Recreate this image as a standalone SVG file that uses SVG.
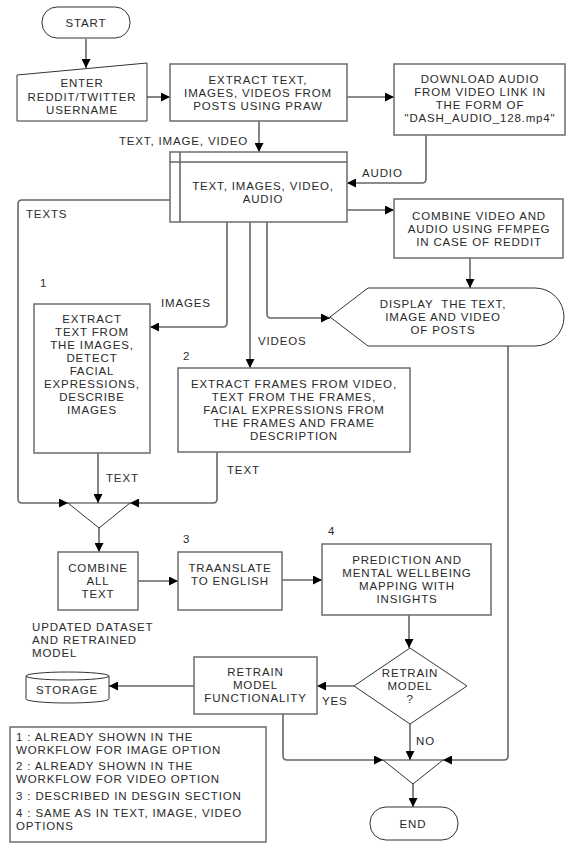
<svg xmlns="http://www.w3.org/2000/svg" width="572" height="866" viewBox="0 0 572 866">
<style>
text{font-family:"Liberation Sans",Arial,sans-serif;font-size:11.5px;letter-spacing:0.85px;fill:#2a2a2a}
.c{text-anchor:middle}
.e{text-anchor:end}
.box{fill:#fff;stroke:#757575;stroke-width:1.6}
.thin{fill:#fff;stroke:#333;stroke-width:1}
.con{fill:none;stroke:#666;stroke-width:1.6}
.arr{marker-end:url(#ah)}
</style>
<defs>
<marker id="ah" viewBox="0 0 10 10" refX="10" refY="5" markerWidth="9" markerHeight="9" markerUnits="userSpaceOnUse" orient="auto">
<path d="M0,0 L10,5 L0,10 z" fill="#000"/>
</marker>
</defs>
<rect width="572" height="866" fill="#fff"/>

<g id="connectors">
<path class="con arr" d="M86,39 V68"/>
<path class="con arr" d="M147,97 H170"/>
<path class="con arr" d="M347,97 H394"/>
<path class="con arr" d="M259,121 V152"/>
<path class="con arr" d="M426,135 V179 Q426,183 422,183 H347"/>
<path class="con arr" d="M170,200 H22 Q18,200 18,204 V499 Q18,503 22,503 H68"/>
<path class="con arr" d="M227,222 V323 Q227,327 223,327 H150"/>
<path class="con arr" d="M250,222 V368"/>
<path class="con arr" d="M267,222 V314 Q267,318 271,318 H330"/>
<path class="con arr" d="M347,210 H394"/>
<path class="con arr" d="M470,258 V288"/>
<path class="con arr" d="M508,346 V756 Q508,760 504,760 H443"/>
<path class="con arr" d="M98,453 V503"/>
<path class="con arr" d="M217,452 V499 Q217,503 213,503 H130"/>
<path class="con arr" d="M99,528 V552"/>
<path class="con arr" d="M138,581 H178"/>
<path class="con arr" d="M282,580 H322"/>
<path class="con arr" d="M409,615 V648"/>
<path class="con arr" d="M354,686 H317"/>
<path class="con arr" d="M194,686 H109"/>
<path class="con arr" d="M283,714 V756 Q283,760 287,760 H383"/>
<path class="con arr" d="M410,724 V760"/>
<path class="con arr" d="M413,784 V807"/>
<text x="248" y="144.5" class="e">TEXT, IMAGE, VIDEO</text>
<text x="362" y="176.5">AUDIO</text>
<text x="26" y="217.5">TEXTS</text>
<text x="161" y="306.5">IMAGES</text>
<text x="258" y="344.5">VIDEOS</text>
<text x="106" y="482">TEXT</text>
<text x="227" y="473.5">TEXT</text>
<text x="322" y="704.5">YES</text>
<text x="416" y="744.5">NO</text>
</g>

<g id="start">
<rect x="42" y="7" width="88" height="31" rx="15" class="thin"/>
<text x="86" y="27" class="c">START</text>
</g>

<g id="enter">
<path d="M17,75 L147,63 V121 H17 Z" class="thin"/>
<text x="82" y="86.5" class="c">ENTER</text>
<text x="82" y="100.5" class="c">REDDIT/TWITTER</text>
<text x="82" y="113.5" class="c">USERNAME</text>
</g>

<g id="extract">
<rect x="170" y="64" width="177" height="57" class="box"/>
<text x="258" y="84" class="c">EXTRACT TEXT,</text>
<text x="258" y="97" class="c">IMAGES, VIDEOS FROM</text>
<text x="258" y="110" class="c">POSTS USING PRAW</text>
</g>

<g id="download">
<rect x="394" y="64" width="171" height="71" class="box"/>
<text x="480" y="83" class="c">DOWNLOAD AUDIO</text>
<text x="480" y="96" class="c">FROM VIDEO LINK IN</text>
<text x="480" y="109" class="c">THE FORM OF</text>
<text x="480" y="122" class="c">"DASH_AUDIO_128.mp4"</text>
</g>

<g id="store">
<rect x="170" y="152" width="177" height="70" class="box"/>
<path d="M180,152 V222 M170,162 H347" class="con"/>
<text x="263" y="190" class="c">TEXT, IMAGES, VIDEO,</text>
<text x="263" y="203" class="c">AUDIO</text>
</g>

<g id="combine-video">
<rect x="394" y="199" width="169" height="59" class="box"/>
<text x="479" y="219.5" class="c">COMBINE VIDEO AND</text>
<text x="479" y="232.5" class="c">AUDIO USING FFMPEG</text>
<text x="479" y="245.5" class="c">IN CASE OF REDDIT</text>
</g>

<g id="display">
<path d="M330,317 L368,288 H535 A29,29 0 0 1 535,346 H368 Z" class="thin"/>
<text x="443" y="307.5" class="c">DISPLAY&#160; THE TEXT,</text>
<text x="443" y="320.5" class="c">IMAGE AND VIDEO</text>
<text x="443" y="333.5" class="c">OF POSTS</text>
</g>

<g id="box1">
<text x="40" y="287">1</text>
<rect x="34" y="304" width="116" height="149" class="box"/>
<text x="92" y="322.5" class="c">EXTRACT</text>
<text x="92" y="335.5" class="c">TEXT FROM</text>
<text x="92" y="348.5" class="c">THE IMAGES,</text>
<text x="92" y="361.5" class="c">DETECT</text>
<text x="92" y="374.5" class="c">FACIAL</text>
<text x="92" y="387.5" class="c">EXPRESSIONS,</text>
<text x="92" y="400.5" class="c">DESCRIBE</text>
<text x="92" y="413.5" class="c">IMAGES</text>
</g>

<g id="box2">
<text x="183" y="359.5">2</text>
<rect x="178" y="368" width="232" height="84" class="box"/>
<text x="294" y="387.5" class="c">EXTRACT FRAMES FROM VIDEO,</text>
<text x="294" y="400.5" class="c">TEXT FROM THE FRAMES,</text>
<text x="294" y="413.5" class="c">FACIAL EXPRESSIONS FROM</text>
<text x="294" y="426.5" class="c">THE FRAMES AND FRAME</text>
<text x="294" y="439.5" class="c">DESCRIPTION</text>
</g>

<g id="merge1">
<path d="M68,503 H130 L99,528 Z" class="thin"/>
</g>

<g id="combine-all">
<rect x="58" y="552" width="80" height="58" class="box"/>
<text x="98" y="571.5" class="c">COMBINE</text>
<text x="98" y="584.5" class="c">ALL</text>
<text x="98" y="597.5" class="c">TEXT</text>
</g>

<g id="translate">
<text x="183" y="542.5">3</text>
<rect x="178" y="552" width="104" height="58" class="box"/>
<text x="230" y="571.5" class="c">TRAANSLATE</text>
<text x="230" y="584.5" class="c">TO ENGLISH</text>
</g>

<g id="prediction">
<text x="328" y="535">4</text>
<rect x="322" y="544" width="169" height="71" class="box"/>
<text x="407" y="564" class="c">PREDICTION AND</text>
<text x="407" y="577" class="c">MENTAL WELLBEING</text>
<text x="407" y="590" class="c">MAPPING WITH</text>
<text x="407" y="603" class="c">INSIGHTS</text>
</g>

<g id="decision">
<path d="M410,648 L467,686 L410,724 L354,686 Z" class="thin"/>
<text x="410" y="676.5" class="c">RETRAIN</text>
<text x="410" y="689.5" class="c">MODEL</text>
<text x="410" y="702.5" class="c">?</text>
</g>

<g id="retrain">
<rect x="194" y="657" width="123" height="57" class="box"/>
<text x="255.5" y="676" class="c">RETRAIN</text>
<text x="255.5" y="689" class="c">MODEL</text>
<text x="255.5" y="702" class="c">FUNCTIONALITY</text>
</g>

<g id="updated-label">
<text x="32" y="630.5">UPDATED DATASET</text>
<text x="32" y="643.5">AND RETRAINED</text>
<text x="32" y="656.5">MODEL</text>
</g>

<g id="storage">
<path d="M26,676 A41.5,4 0 0 1 109,676 V699 A41.5,4 0 0 1 26,699 Z" class="thin"/>
<path d="M26,676 A41.5,4 0 0 0 109,676" fill="none" stroke="#333" stroke-width="1"/>
<text x="67" y="693.5" class="c">STORAGE</text>
</g>

<g id="merge2">
<path d="M383,760 H443 L413,784 Z" class="thin"/>
</g>

<g id="end">
<rect x="370" y="807" width="88" height="33" rx="16" class="thin"/>
<text x="413" y="827.5" class="c">END</text>
</g>

<g id="legend">
<rect x="10" y="727" width="256" height="115" class="box"/>
<text x="16" y="740.5">1 : ALREADY SHOWN IN THE</text>
<text x="16" y="753.5">WORKFLOW FOR IMAGE OPTION</text>
<text x="16" y="769.5">2 : ALREADY SHOWN IN THE</text>
<text x="16" y="782.5">WORKFLOW FOR VIDEO OPTION</text>
<text x="16" y="799.5">3 : DESCRIBED IN DESGIN SECTION</text>
<text x="16" y="816.5">4 : SAME AS IN TEXT, IMAGE, VIDEO</text>
<text x="16" y="829.5">OPTIONS</text>
</g>
</svg>
